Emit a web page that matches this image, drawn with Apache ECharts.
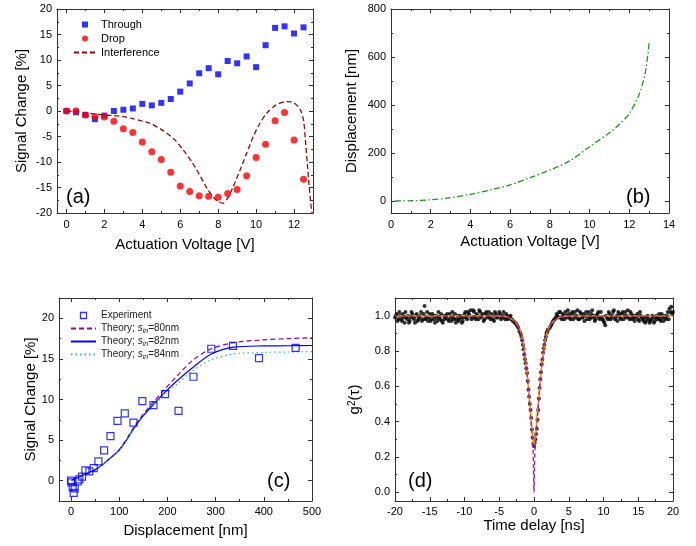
<!DOCTYPE html>
<html><head><meta charset="utf-8">
<script src="https://cdn.jsdelivr.net/npm/echarts@6/dist/echarts.min.js"></script>
<style>html,body{margin:0;padding:0;background:#fff}#c{width:696px;height:546px}</style>
</head><body><div id="c"></div>
<script>
// ---------- (a) Signal change vs actuation voltage ----------
const voltA = [0,0.5,1,1.5,2,2.5,3,3.5,4,4.5,5,5.5,6,6.5,7,7.5,8,8.5,9,9.5,10,10.5,11,11.5,12,12.5];
const through = [0,-0.25,-0.8,-1.6,-0.9,0,0.25,0.5,1.4,1.1,1.6,2.35,3.8,5.4,7.4,8.4,7.2,9.8,9.35,10.7,8.6,12.9,16.3,16.6,15.2,16.4];
const drop = [0,0,-0.8,-1.1,-1.2,-2.0,-3.5,-4.2,-6.1,-8.0,-9.5,-12.0,-14.7,-15.8,-16.6,-16.7,-16.9,-16.2,-15.4,-12.7,-9.1,-6.5,-1.9,-0.3,-5.7,-13.4];
const interfV = [0,0.5,1,1.5,2,2.5,3,3.5,4,4.4,5.0,5.7,6.15,6.6,7.0,7.45,7.9,8.25,8.5,8.8,9.15,9.5,9.85,10.2,10.55,11.05,11.6,11.95,12.3,12.5,12.6,12.7,12.8,12.88,12.95];
const interfS = [0,-0.1,-0.35,-0.6,-0.8,-0.9,-1.1,-1.5,-2.0,-2.4,-3.6,-5.6,-7.6,-9.9,-12.4,-15.4,-17.5,-18.1,-17.1,-14.8,-11.6,-8.3,-5.0,-2.4,-0.5,1.2,1.85,1.7,0.5,-1.8,-5.7,-10.3,-14.8,-18.1,-20];
// ---------- (b) Displacement vs voltage ----------
const voltB = [0.2,1,2,3,4,5,6,7,8,9,10,11,11.5,12,12.5,12.8,13];
const dispB = [0,1,5,14,28,46,67,97,129,167,226,284,320,364,445,533,658];
// ---------- (c) Signal change vs displacement ----------
const dispExp = [0,1,3.4,5.5,7.6,13.8,17.3,22.8,29.8,38,47,56.8,68.6,81.8,96.3,111.5,129.6,148,171,195,223,254,291,336,390,466];
const sigExp = [0,-0.2,-0.8,-1.5,-0.95,-0.1,0.16,0.5,1.27,1.15,1.55,2.38,3.74,5.5,7.36,8.3,7.16,9.8,9.3,10.65,8.6,12.8,16.25,16.6,15.1,16.35];
const dispTh = [0,10,20,37,57,78,99,115,130,150,171,195,220,254,291,338,400,450,500];
const th80 = [0,0.3,0.6,1.0,1.6,2.65,3.75,5.1,6.55,8.2,9.7,11.3,12.9,14.9,16.25,17.0,17.35,17.5,17.6];
const th82 = [0,0.3,0.6,1.0,1.6,2.6,3.7,5.0,6.4,8.0,9.4,10.9,12.3,14.0,15.6,16.45,16.6,16.62,16.65];
const th84 = [0,0.3,0.6,1.0,1.6,2.6,3.65,4.95,6.3,7.9,9.2,10.6,11.9,13.6,14.9,15.6,15.8,15.85,15.9];
// ---------- (d) g2(tau) ----------
const tauData = [-20,-19.75,-19.5,-19.25,-19,-18.75,-18.5,-18.25,-18,-17.75,-17.5,-17.25,-17,-16.75,-16.5,-16.25,-16,-15.75,-15.5,-15.25,-15,-14.75,-14.5,-14.25,-14,-13.75,-13.5,-13.25,-13,-12.75,-12.5,-12.25,-12,-11.75,-11.5,-11.25,-11,-10.75,-10.5,-10.25,-10,-9.75,-9.5,-9.25,-9,-8.75,-8.5,-8.25,-8,-7.75,-7.5,-7.25,-7,-6.75,-6.5,-6.25,-6,-5.75,-5.5,-5.25,-5,-4.75,-4.5,-4.25,-4,-3.75,-3.5,-3.25,-3,-2.75,-2.5,-2.25,
 -2.1,-1.9,-1.8,-1.7,-1.6,-1.5,-1.4,-1.3,-1.2,-1.1,-1.0,-0.9,-0.8,-0.7,-0.6,-0.5,-0.4,-0.3,-0.2,-0.1,0,0.1,0.2,0.3,0.4,0.5,0.6,0.7,0.8,0.9,1.0,1.1,1.2,1.3,1.4,1.5,1.6,1.7,1.8,1.9,2.0,
 2.25,2.5,2.75,3,3.25,3.5,3.75,4,4.25,4.5,4.75,5,5.25,5.5,5.75,6,6.25,6.5,6.75,7,7.25,7.5,7.75,8,8.25,8.5,8.75,9,9.25,9.5,9.75,10,10.25,10.5,10.75,11,11.25,11.5,11.75,12,12.25,12.5,12.75,13,13.25,13.5,13.75,14,14.25,14.5,14.75,15,15.25,15.5,15.75,16,16.25,16.5,16.75,17,17.25,17.5,17.75,18,18.25,18.5,18.75,19,19.25,19.5,19.75,20];
const g2Data = [0.99,1.01,0.98,1.00,0.97,0.99,1.02,0.98,0.96,0.99,1.01,0.98,1.00,0.97,0.99,1.02,0.98,1.055,0.99,0.97,1.01,0.98,1.00,0.96,0.99,1.02,0.98,0.97,1.00,0.99,1.01,0.97,0.99,1.02,0.98,0.96,1.00,0.98,0.99,0.97,1.01,0.99,1.02,1.00,0.98,1.03,0.99,1.01,0.98,1.02,1.00,0.97,1.01,0.99,1.02,0.98,1.00,0.97,1.01,0.99,1.02,0.98,1.00,0.99,1.01,0.98,0.99,0.98,0.97,0.96,0.95,0.93,
 0.91,0.895,0.88,0.86,0.835,0.81,0.78,0.755,0.73,0.70,0.675,0.63,0.58,0.54,0.50,0.465,0.42,0.355,0.31,0.275,0.26,0.28,0.30,0.33,0.36,0.41,0.465,0.53,0.59,0.64,0.68,0.725,0.75,0.79,0.815,0.835,0.86,0.88,0.90,0.91,0.92,
 0.93,0.95,0.97,0.98,1.01,0.99,1.02,0.98,1.00,1.02,0.99,1.01,0.98,1.02,1.00,0.99,1.03,0.98,1.01,0.99,0.97,1.02,1.00,0.98,1.01,0.99,0.97,1.00,1.02,0.98,0.99,0.97,0.945,0.99,1.02,0.98,1.00,1.03,0.99,0.97,1.01,0.98,1.02,1.00,0.99,1.03,0.98,1.01,0.99,0.97,1.00,0.98,1.02,0.99,0.97,0.96,0.99,0.98,0.97,1.00,0.96,0.99,0.98,1.01,0.97,0.99,1.00,0.98,1.02,1.04,1.05,1.02];
const tauData2 = [-19.875,-19.625,-19.375,-19.125,-18.875,-18.625,-18.375,-18.125,-17.875,-17.625,-17.375,-17.125,-16.875,-16.625,-16.375,-16.125,-15.875,-15.625,-15.375,-15.125,-14.875,-14.625,-14.375,-14.125,-13.875,-13.625,-13.375,-13.125,-12.875,-12.625,-12.375,-12.125,-11.875,-11.625,-11.375,-11.125,-10.875,-10.625,-10.375,-10.125,-9.875,-9.625,-9.375,-9.125,-8.875,-8.625,-8.375,-8.125,-7.875,-7.625,-7.375,-7.125,-6.875,-6.625,-6.375,-6.125,-5.875,-5.625,-5.375,-5.125,-4.875,-4.625,-4.375,-4.125,-3.875,-3.625,-3.375,-3.125,-2.875,-2.625,-2.375,
 2.375,2.625,2.875,3.125,3.375,3.625,3.875,4.125,4.375,4.625,4.875,5.125,5.375,5.625,5.875,6.125,6.375,6.625,6.875,7.125,7.375,7.625,7.875,8.125,8.375,8.625,8.875,9.125,9.375,9.625,9.875,10.125,10.375,10.625,10.875,11.125,11.375,11.625,11.875,12.125,12.375,12.625,12.875,13.125,13.375,13.625,13.875,14.125,14.375,14.625,14.875,15.125,15.375,15.625,15.875,16.125,16.375,16.625,16.875,17.125,17.375,17.625,17.875,18.125,18.375,18.625,18.875,19.125,19.375,19.625,19.875];
const g2Data2 = [1.00,0.97,1.02,0.98,1.01,0.96,0.99,1.00,0.97,1.02,0.99,0.96,1.01,0.98,1.00,0.97,1.01,0.98,1.02,0.99,0.97,1.01,0.98,1.00,0.97,0.99,1.01,0.96,0.98,1.00,0.98,1.01,0.97,0.99,1.01,0.98,0.97,1.00,0.96,0.99,1.02,0.98,1.01,1.03,0.99,1.02,0.98,1.00,1.03,0.99,1.01,0.98,1.02,1.00,0.99,1.01,0.98,1.02,0.99,1.00,1.01,0.99,1.02,0.98,1.00,0.99,1.00,0.975,0.965,0.955,0.94,
 0.94,0.96,0.975,0.99,1.00,1.02,0.99,1.01,0.98,1.00,1.03,0.99,1.01,0.98,1.02,1.00,0.98,1.02,0.99,1.01,1.00,0.98,1.02,0.99,1.03,1.00,0.98,1.01,0.99,1.02,0.98,0.96,1.00,0.98,1.01,0.99,1.02,0.98,1.00,1.02,0.99,1.01,0.98,1.02,1.00,0.99,1.02,0.98,1.00,0.99,1.01,0.97,1.00,0.98,0.99,0.97,1.00,0.96,0.98,0.99,0.97,1.00,0.99,0.98,1.01,0.97,0.99,1.00,0.98,1.02,1.01];
const tauFit = [-20,-6,-4,-3,-2.5,-2,-1.75,-1.5,-1.25,-1,-0.75,-0.5,-0.3,-0.15,0,0.15,0.3,0.5,0.75,1,1.25,1.5,1.75,2,2.5,3,4,6,20];
const g2Fit = [1,1,0.995,0.975,0.955,0.92,0.885,0.83,0.755,0.675,0.565,0.455,0.36,0.30,0.27,0.30,0.36,0.455,0.565,0.675,0.755,0.83,0.885,0.92,0.955,0.975,0.995,1,1];
const tauIdeal = [-20,-6,-4,-3,-2.5,-2,-1.75,-1.5,-1.25,-1,-0.75,-0.5,-0.3,-0.15,-0.07,0,0.07,0.15,0.3,0.5,0.75,1,1.25,1.5,1.75,2,2.5,3,4,6,20];
const g2Ideal = [1,1,0.995,0.975,0.955,0.92,0.885,0.83,0.755,0.67,0.555,0.43,0.33,0.25,0.14,0,0.14,0.25,0.33,0.43,0.555,0.67,0.755,0.83,0.885,0.92,0.955,0.975,0.995,1,1];
// ---------- tick values ----------
const aXMajor = [0,2,4,6,8,10,12], aXMinor = [1,3,5,7,9,11,13];
const aYMajor = [-20,-15,-10,-5,0,5,10,15,20], aYMinor = [-17.5,-12.5,-7.5,-2.5,2.5,7.5,12.5,17.5];
const bXMajor = [0,2,4,6,8,10,12,14], bXMinor = [1,3,5,7,9,11,13];
const bYMajor = [0,200,400,600,800], bYMinor = [100,300,500,700];
const cXMajor = [0,100,200,300,400,500], cXMinor = [50,150,250,350,450];
const cYMajor = [0,5,10,15,20], cYMinor = [2.5,7.5,12.5,17.5];
const dXMajor = [-20,-15,-10,-5,0,5,10,15,20], dXMinor = [-17.5,-12.5,-7.5,-2.5,2.5,7.5,12.5,17.5];
const dYMajor = [0,0.2,0.4,0.6,0.8,1.0], dYMinor = [0.1,0.3,0.5,0.7,0.9];

const FONT = '"Liberation Sans", Arial, Helvetica, sans-serif';
const AX = '#333';
const zip = (a, b) => a.map((v, i) => [v, b[i]]);

const rects = [
  {left:57, top:9, width:256, height:204},
  {left:391, top:9, width:278, height:204},
  {left:59, top:298, width:253, height:203},
  {left:395, top:298, width:278, height:203}
];
const grids = rects.concat(rects).map(r => Object.assign({containLabel:false}, r));

function axes(dim, p, min, max, majors, minors, opt) {
  const posA = dim === 'x' ? 'bottom' : 'left';
  const posB = dim === 'x' ? 'top' : 'right';
  const base = {type:'value', min:min, max:max, splitLine:{show:false}, axisPointer:{show:false}};
  const line = {show:true, onZero:false, lineStyle:{color:AX, width:1}};
  const a1 = Object.assign({}, base, {
    gridIndex:p, position:posA, axisLine:line,
    axisTick:{show:true, inside:true, length:4, customValues:majors, lineStyle:{color:AX}},
    axisLabel:{show:true, customValues:majors, margin:opt.margin, fontSize:11, fontFamily:FONT, color:'#000', formatter:opt.fmt},
    name:opt.name, nameLocation:'middle', nameGap:opt.nameGap, nameRotate:dim === 'y' ? 90 : 0,
    nameTextStyle:Object.assign({fontSize:15, fontFamily:FONT, color:'#000'}, opt.nameStyle || {})
  });
  const a2 = Object.assign({}, base, {gridIndex:p, position:posB, axisLine:line,
    axisTick:{show:true, inside:true, length:4, customValues:majors, lineStyle:{color:AX}}, axisLabel:{show:false}});
  const a3 = Object.assign({}, base, {gridIndex:p + 4, position:posA, axisLine:{show:false, onZero:false},
    axisTick:{show:true, inside:true, length:2, customValues:minors, lineStyle:{color:AX}}, axisLabel:{show:false}});
  const a4 = Object.assign({}, a3, {position:posB});
  return [a1, a2, a3, a4];
}

const xAxes = [].concat(
  axes('x', 0, -0.5, 13, aXMajor, aXMinor, {margin:6, name:'Actuation Voltage [V]', nameGap:24}),
  axes('x', 1, 0, 14, bXMajor, bXMinor, {margin:6, name:'Actuation Voltage [V]', nameGap:21}),
  axes('x', 2, -25, 500, cXMajor, cXMinor, {margin:5, name:'Displacement [nm]', nameGap:22}),
  axes('x', 3, -20, 20, dXMajor, dXMinor, {margin:5, name:'Time delay [ns]', nameGap:16})
);
const yAxes = [].concat(
  axes('y', 0, -20, 20, aYMajor, aYMinor, {margin:5, name:'Signal Change [%]', nameGap:28}),
  axes('y', 1, -50, 800, bYMajor, bYMinor, {margin:5, name:'Displacement [nm]', nameGap:32}),
  axes('y', 2, -2.5, 22.5, cYMajor, cYMinor, {margin:5, name:'Signal Change [%]', nameGap:19}),
  axes('y', 3, -0.05, 1.1, dYMajor, dYMinor, {margin:5, fmt:v => Number(v).toFixed(1), name:'g{sup|2}(τ)', nameGap:33,
    nameStyle:{rich:{sup:{fontSize:10, fontFamily:FONT, color:'#000', verticalAlign:'top', lineHeight:10}}}})
);

const SQ = 'path://M0,0H10V10H0Z';
const HIDE = {color:'rgba(0,0,0,0)', borderWidth:0, opacity:0};
const thNames = {'Theory; s_in=80nm':'80', 'Theory; s_in=82nm':'82', 'Theory; s_in=84nm':'84'};

const option = {
  animation:false,
  backgroundColor:'#fff',
  grid:grids,
  xAxis:xAxes,
  yAxis:yAxes,
  legend:[
    {left:68, top:13, orient:'vertical', itemWidth:22, itemHeight:6, itemGap:1, selectedMode:false,
     textStyle:{fontSize:11, fontFamily:FONT, color:'#000', lineHeight:13},
     data:[{name:'Through', icon:SQ}, {name:'Drop', icon:'circle'}, {name:'Interference', itemStyle:HIDE}]},
    {left:65, top:304, orient:'vertical', itemWidth:25, itemHeight:6, itemGap:0, selectedMode:false,
     textStyle:{fontSize:10, fontFamily:FONT, color:'#222', lineHeight:13,
       rich:{i:{fontStyle:'italic', fontSize:10, fontFamily:FONT, color:'#222'},
             s:{fontStyle:'italic', fontSize:7, fontFamily:FONT, color:'#222', verticalAlign:'bottom', lineHeight:7}}},
     formatter:n => thNames[n] ? 'Theory; {i|s}{s|in}=' + thNames[n] + 'nm' : n,
     data:[{name:'Experiment', icon:SQ, itemStyle:{color:'#fff', borderColor:'#0000ff', borderWidth:1.3}},
           {name:'Theory; s_in=80nm', itemStyle:HIDE}, {name:'Theory; s_in=82nm', itemStyle:HIDE}, {name:'Theory; s_in=84nm', itemStyle:HIDE}]}
  ],
  graphic:[
    {type:'text', x:66, y:197, style:{text:'(a)', font:'20px ' + FONT, fill:'#000', verticalAlign:'middle'}},
    {type:'text', x:626, y:197, style:{text:'(b)', font:'20px ' + FONT, fill:'#000', verticalAlign:'middle'}},
    {type:'text', x:267, y:481, style:{text:'(c)', font:'20px ' + FONT, fill:'#000', verticalAlign:'middle'}},
    {type:'text', x:408, y:481, style:{text:'(d)', font:'20px ' + FONT, fill:'#000', verticalAlign:'middle'}}
  ],
  series:[
    {name:'Interference', type:'line', xAxisIndex:0, yAxisIndex:0, data:zip(interfV, interfS), symbol:'none', smooth:0.25,
     lineStyle:{color:'#8b0a0a', width:1.3, type:[5,3]}, itemStyle:{color:'#8b0a0a'}, z:2},
    {name:'Through', type:'scatter', xAxisIndex:0, yAxisIndex:0, data:zip(voltA, through), symbol:'rect', symbolSize:6,
     itemStyle:{color:'#0000ff'}, z:3},
    {name:'Drop', type:'scatter', xAxisIndex:0, yAxisIndex:0, data:zip(voltA, drop), symbol:'circle', symbolSize:7,
     itemStyle:{color:'#ff0000'}, z:3},
    {name:'Displacement', type:'line', xAxisIndex:4, yAxisIndex:4, data:zip(voltB, dispB), symbol:'none', smooth:0.3,
     lineStyle:{color:'#1a9a1a', width:1.3, type:[6,2.5,1.5,2.5]}},
    {name:'Experiment', type:'scatter', xAxisIndex:8, yAxisIndex:8, data:zip(dispExp, sigExp), symbol:'rect', symbolSize:7,
     itemStyle:{color:'rgba(255,255,255,0)', borderColor:'#0000ff', borderWidth:1.2}, z:4},
    {name:'Theory; s_in=80nm', type:'line', xAxisIndex:8, yAxisIndex:8, data:zip(dispTh, th80), symbol:'none', smooth:0.3,
     lineStyle:{color:'#990099', width:1.2, type:[5,3]}, itemStyle:{color:'#990099'}},
    {name:'Theory; s_in=82nm', type:'line', xAxisIndex:8, yAxisIndex:8, data:zip(dispTh, th82), symbol:'none', smooth:0.3,
     lineStyle:{color:'#0000ff', width:1.2}, itemStyle:{color:'#0000ff'}},
    {name:'Theory; s_in=84nm', type:'line', xAxisIndex:8, yAxisIndex:8, data:zip(dispTh, th84), symbol:'none', smooth:0.3,
     lineStyle:{color:'#33b5b5', width:1.2, type:[1.5,3]}, itemStyle:{color:'#33b5b5'}},
    {name:'g2 data', type:'scatter', xAxisIndex:12, yAxisIndex:12, data:zip(tauData, g2Data), symbol:'circle', symbolSize:4,
     itemStyle:{color:'#000'}, z:2},
    {name:'g2 data 2', type:'scatter', xAxisIndex:12, yAxisIndex:12, data:zip(tauData2, g2Data2), symbol:'circle', symbolSize:4,
     itemStyle:{color:'#000'}, z:2},
    {name:'g2 fit', type:'line', xAxisIndex:12, yAxisIndex:12, data:zip(tauFit, g2Fit), symbol:'none', smooth:0.3,
     lineStyle:{color:'#ff8c00', width:1.5}, z:3},
    {name:'g2 ideal', type:'line', xAxisIndex:12, yAxisIndex:12, data:zip(tauIdeal, g2Ideal), symbol:'none', smooth:0.3,
     lineStyle:{color:'#a020a0', width:1.4, type:[4,3]}, z:4}
  ]
};
const chart = echarts.init(document.getElementById('c'), null, {renderer:'canvas'});
chart.setOption(option);
</script></body></html>
